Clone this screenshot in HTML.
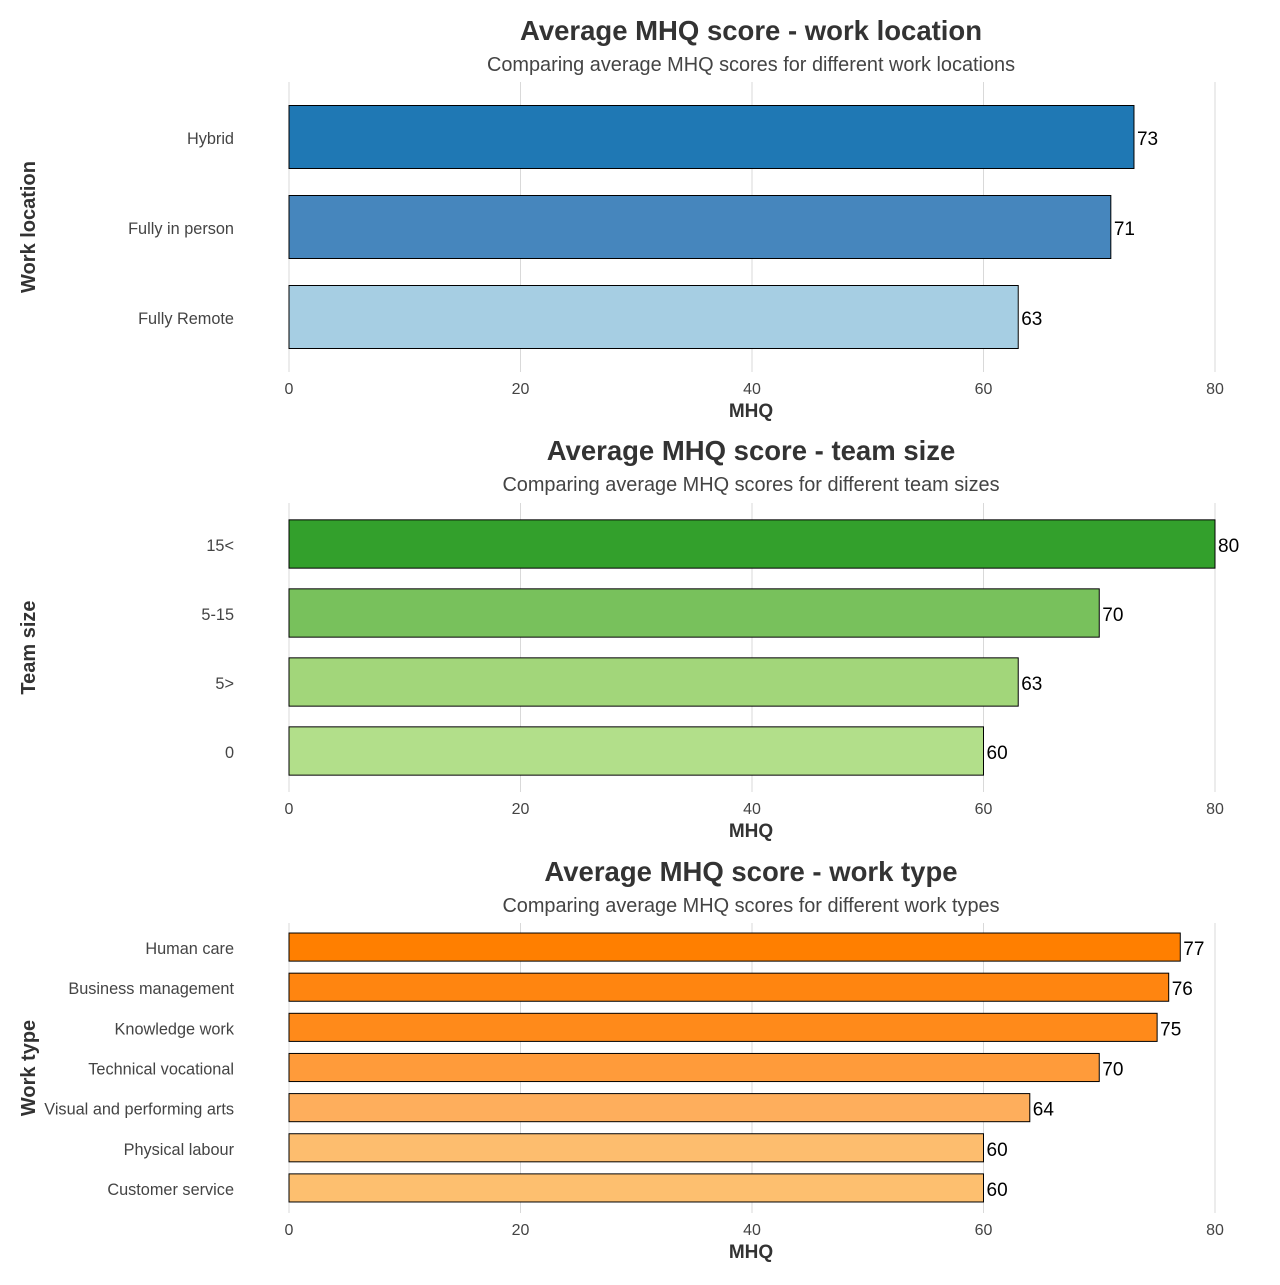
<!DOCTYPE html>
<html><head><meta charset="utf-8"><style>
body{margin:0;background:#fff;width:1280px;height:1280px;overflow:hidden;font-family:"Liberation Sans",sans-serif}
</style></head><body>
<svg id="chart" width="1280" height="1280" xmlns="http://www.w3.org/2000/svg" font-family="Liberation Sans, sans-serif"></svg>
<script>
const ticks=[0,20,40,60,80];
const locCats=["Hybrid","Fully in person","Fully Remote"];
const locVals=[73,71,63];
const locColors=["#1f78b4","#4686bd","#a6cee3"];
const teamCats=["15<","5-15","5>","0"];
const teamVals=[80,70,63,60];
const teamColors=["#33a02c","#78c15c","#a2d67a","#b2df8a"];
const typeCats=["Human care","Business management","Knowledge work","Technical vocational","Visual and performing arts","Physical labour","Customer service"];
const typeVals=[77,76,75,70,64,60,60];
const typeColors=["#ff7f00","#ff8510","#ff8a1a","#ff9b3a","#feae5c","#fdbd6e","#fdbf6f"];

const svg=document.getElementById('chart');
const NS="http://www.w3.org/2000/svg";
const x0=289,x1=1215,xmax=80;
const xs=v=>x0+(x1-x0)*v/xmax;
function mk(tag,attrs,text){const e=document.createElementNS(NS,tag);for(const k in attrs)e.setAttribute(k,attrs[k]);if(text!==undefined)e.textContent=text;svg.appendChild(e);return e;}
function panel(key,title,sub,ytitle,cats,vals,colors,gTop,gBot,top,bottom,titleY,tickY,bw){
  let t=mk('text',{x:751,y:titleY,'text-anchor':'middle','font-size':27.5,'font-weight':'bold',fill:'#333'},title);
  
  
  t=mk('text',{x:751,y:titleY+31,'text-anchor':'middle','font-size':19.9,fill:'#444'},sub);
  
  
  ticks.forEach(v=>{
    const g=mk('line',{x1:xs(v),x2:xs(v),y1:gTop,y2:gBot,stroke:'#d9d9d9','stroke-width':1});
    
    
    const tl=mk('text',{x:xs(v),y:tickY,'text-anchor':'middle','font-size':16,fill:'#444'},String(v));
    
    
  });
  t=mk('text',{x:751,y:tickY+23,'text-anchor':'middle','font-size':19,'font-weight':'bold',fill:'#333'},'MHQ');
  
  
  const cy=(gTop+gBot)/2;
  t=mk('text',{x:0,y:0,'text-anchor':'middle','font-size':20,'font-weight':'bold',fill:'#333',transform:`translate(35,${cy}) rotate(-90)`},ytitle);
  
  
  const band=(bottom-top)/cats.length;
  cats.forEach((c,i)=>{
    const yc=top+band*(i+0.5);
    const r=mk('rect',{x:xs(0),y:yc-band*bw/2,width:xs(vals[i])-xs(0),height:band*bw,fill:colors[i],stroke:'#000','stroke-width':1});
    
    
    const l=mk('text',{x:234,y:yc+7,'text-anchor':'end','font-size':16.3,fill:'#444'},c);
    
    
    const v=mk('text',{x:xs(vals[i])+3,y:yc+8,'font-size':19,fill:'#000'},String(vals[i]));
    
    
  });
}
panel('location','Average MHQ score - work location','Comparing average MHQ scores for different work locations','Work location',locCats,locVals,locColors,82,372,92,362,40,394,0.7);
panel('team','Average MHQ score - team size','Comparing average MHQ scores for different team sizes','Team size',teamCats,teamVals,teamColors,503,792,509.5,785.5,460,814,0.7);
panel('type','Average MHQ score - work type','Comparing average MHQ scores for different work types','Work type',typeCats,typeVals,typeColors,923,1213,927,1208,881,1235,0.7);
</script>
</body></html>
